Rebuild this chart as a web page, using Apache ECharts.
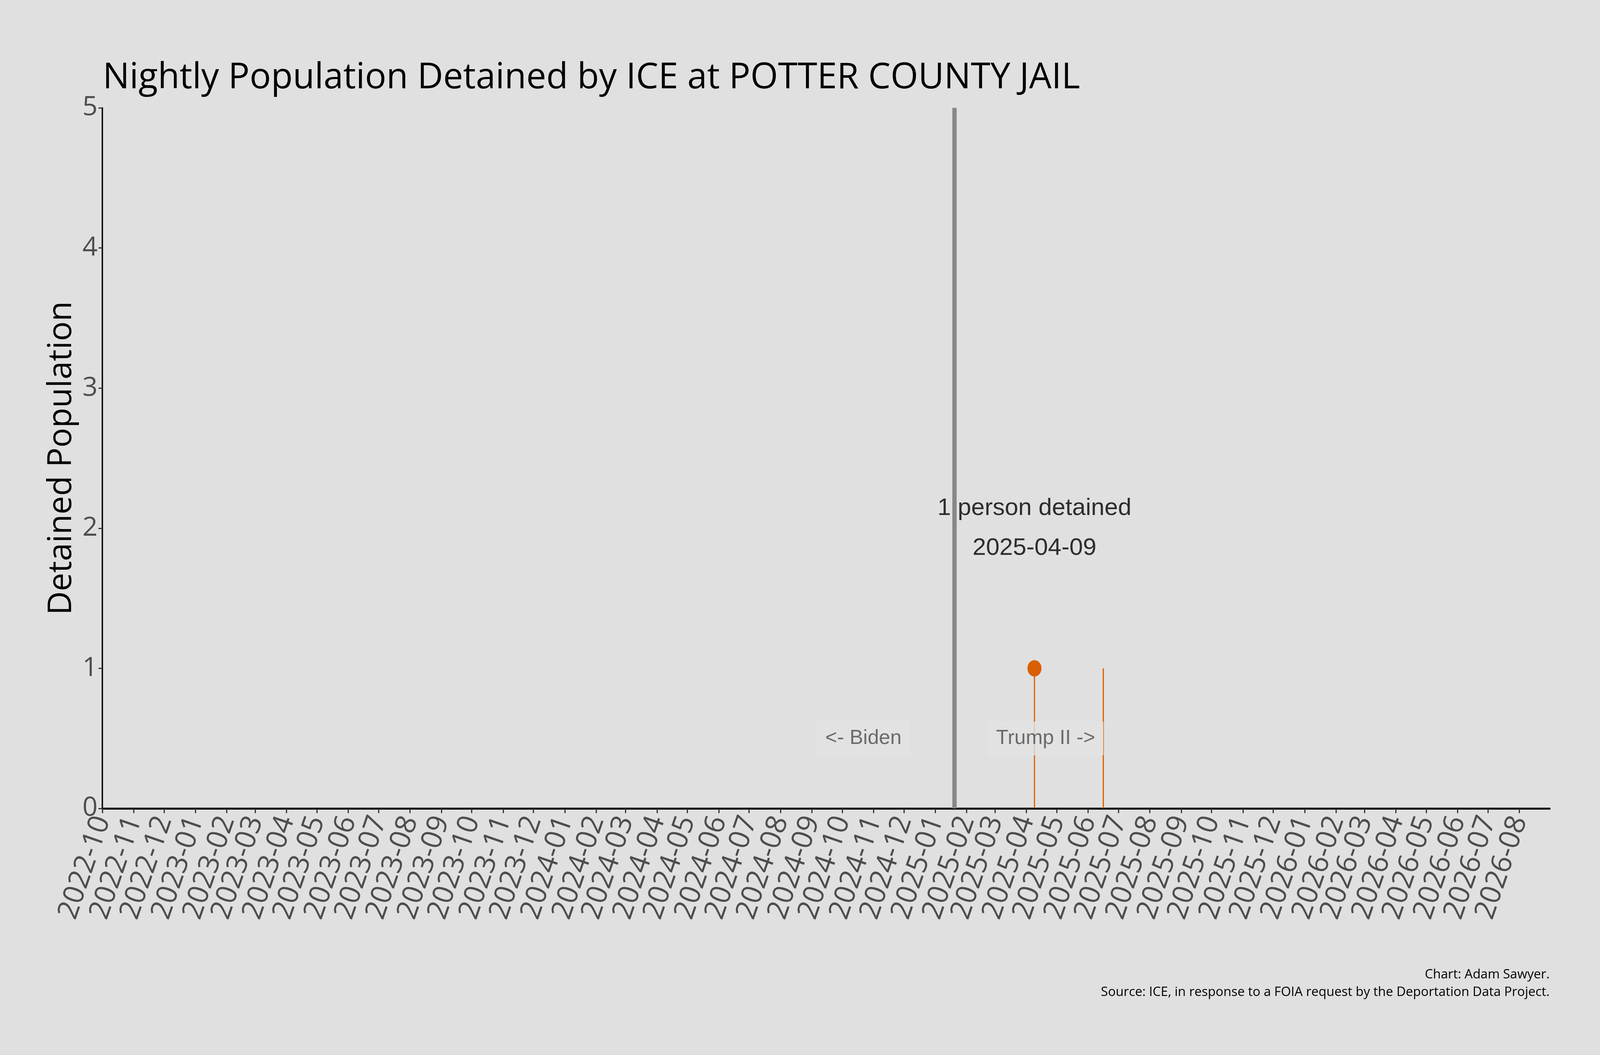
<!DOCTYPE html>
<html>
<head>
<meta charset="utf-8">
<title>Nightly Population Detained by ICE at POTTER COUNTY JAIL</title>
<script src="https://cdn.jsdelivr.net/npm/echarts@6.0.0/dist/echarts.min.js"></script>
<style>
  html, body { margin: 0; padding: 0; background: #e0e0e0; overflow: hidden; }
  #main { width: 100vw; height: 100vh; }
</style>
</head>
<body>
<div id="main"></div>
<script>
// nights with someone detained (date, population)
var stemDates = ['2025-04-09', '2025-06-16'];
var stemValues = [1, 1];

// highlighted peak
var peakDate = '2025-04-09';
var peakValue = 1;
var annotationY = 2;

// administration change
var inaugurationDate = '2025-01-20';
var eraLabels = ['<- Biden', 'Trump II ->'];
var eraLabelDates = ['2024-10-22', '2025-04-20'];
var eraLabelY = 0.5;

// axes
var xMin = '2022-10-01';
var xMax = '2026-08-31';
var monthLabels = [
    '2022-10', '2022-11', '2022-12',
    '2023-01', '2023-02', '2023-03', '2023-04', '2023-05', '2023-06',
    '2023-07', '2023-08', '2023-09', '2023-10', '2023-11', '2023-12',
    '2024-01', '2024-02', '2024-03', '2024-04', '2024-05', '2024-06',
    '2024-07', '2024-08', '2024-09', '2024-10', '2024-11', '2024-12',
    '2025-01', '2025-02', '2025-03', '2025-04', '2025-05', '2025-06',
    '2025-07', '2025-08', '2025-09', '2025-10', '2025-11', '2025-12',
    '2026-01', '2026-02', '2026-03', '2026-04', '2026-05', '2026-06',
    '2026-07', '2026-08'
];
var yMin = 0, yMax = 5, yStep = 1;

// 'YYYY-MM' or 'YYYY-MM-DD' -> local timestamp
function toTime(s) {
    var p = s.split('-');
    return new Date(+p[0], +p[1] - 1, p[2] ? +p[2] : 1).getTime();
}

var monthTimes = monthLabels.map(toTime);
var labelByTime = {};
monthLabels.forEach(function (m, i) { labelByTime[monthTimes[i]] = m; });
var stemData = stemDates.map(function (d, i) { return [toTime(d), stemValues[i]]; });
var eraData = eraLabelDates.map(function (d, i) { return [toTime(d), eraLabelY, eraLabels[i]]; });

var ORANGE = '#d95f02';
var BG = '#e0e0e0';

// layout is designed on a 4800x2700 canvas, stretched to the real window
var W = window.innerWidth || 4800;
var H = window.innerHeight || 2700;
var sx = W / 4800;
var sy = H / 2700;
function X(v) { return Math.round(v * sx); }
function Y(v) { return Math.round(v * sy); }

var myChart = echarts.init(document.getElementById('main'));

var option = {
    backgroundColor: BG,
    animation: false,
    title: {
        text: 'Nightly Population Detained by ICE at POTTER COUNTY JAIL',
        left: X(308),
        top: Y(155),
        padding: 0,
        textStyle: { fontFamily: 'Open Sans', fontSize: 91, fontWeight: 'normal', color: '#000' }
    },
    grid: { left: X(307), right: X(151), top: Y(276), bottom: Y(631), containLabel: false },
    xAxis: {
        type: 'value',
        min: toTime(xMin),
        max: toTime(xMax),
        axisLine: { show: true, lineStyle: { color: '#000', width: 5 } },
        axisTick: { show: true, customValues: monthTimes, length: 12, lineStyle: { color: '#333', width: 3 } },
        axisLabel: {
            customValues: monthTimes,
            rotate: 71,
            margin: 22,
            fontFamily: 'Open Sans',
            fontSize: 73,
            color: '#4d4d4d',
            formatter: function (v) { return labelByTime[v] || ''; }
        },
        splitLine: { show: false }
    },
    yAxis: {
        type: 'value',
        min: yMin,
        max: yMax,
        interval: yStep,
        name: 'Detained Population',
        nameLocation: 'middle',
        nameGap: X(68),
        nameTextStyle: { fontFamily: 'Open Sans', fontSize: 84, color: '#000' },
        axisLine: { show: true, lineStyle: { color: '#000', width: 3.5 } },
        axisTick: { show: true, length: X(12), lineStyle: { color: '#333', width: 3 } },
        axisLabel: { fontFamily: 'Open Sans', fontSize: 68, color: '#4d4d4d', margin: X(14) },
        splitLine: { show: false }
    },
    series: [
        {
            name: 'stems',
            type: 'bar',
            barWidth: 3,
            z: 2,
            itemStyle: { color: ORANGE },
            data: stemData,
            markLine: {
                silent: true,
                symbol: ['none', 'none'],
                label: { show: false },
                lineStyle: { color: '#888888', width: X(13), type: 'solid' },
                data: [{ xAxis: toTime(inaugurationDate) }]
            }
        },
        {
            name: 'peak',
            type: 'scatter',
            z: 3,
            symbol: 'circle',
            symbolSize: [X(42), Y(42)],
            itemStyle: { color: ORANGE, opacity: 1 },
            data: [[toTime(peakDate), peakValue]]
        },
        {
            name: 'annotation',
            type: 'scatter',
            z: 5,
            symbolSize: 1,
            itemStyle: { color: 'rgba(0,0,0,0)' },
            label: {
                show: true,
                position: 'inside',
                formatter: peakValue + ' person detained\n' + peakDate,
                fontFamily: 'Liberation Sans',
                fontSize: 62,
                lineHeight: Y(102),
                color: '#000'
            },
            data: [[toTime(peakDate), annotationY]]
        },
        {
            name: 'eras',
            type: 'scatter',
            z: 4,
            symbolSize: 1,
            itemStyle: { color: 'rgba(0,0,0,0)' },
            label: {
                show: true,
                position: 'inside',
                formatter: function (p) { return p.value[2]; },
                fontFamily: 'Liberation Sans',
                fontSize: 52,
                color: '#4d4d4d',
                backgroundColor: '#e2e2e2',
                borderColor: '#e7e7e7',
                borderWidth: 1,
                padding: [Y(16), X(24), Y(16), X(24)]
            },
            data: eraData
        }
    ],
    graphic: [
        {
            type: 'text',
            right: X(151),
            top: Y(2472),
            style: {
                text: 'Chart: Adam Sawyer.\nSource: ICE, in response to a FOIA request by the Deportation Data Project.',
                textAlign: 'right',
                fontFamily: 'Open Sans',
                fontSize: 33,
                lineHeight: Y(45),
                fill: '#000'
            }
        }
    ]
};

myChart.setOption(option);
</script>
</body>
</html>
